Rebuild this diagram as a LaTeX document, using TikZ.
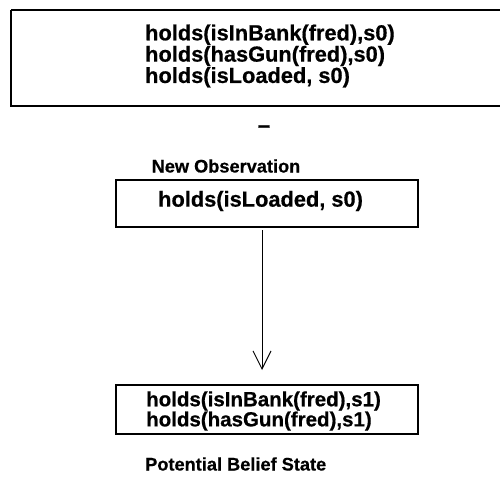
\documentclass[tikz,border=0pt]{standalone}
\usepackage{fontspec}
\setmainfont{Liberation Sans}[BoldFeatures={FakeBold=0.6}]
\usetikzlibrary{arrows.meta}
\tikzset{
  frame/.style={draw, line width=1.5pt},
  facts/.style={font=\fontsize{21.8}{19.5}\selectfont\bfseries, align=left, inner sep=0pt, anchor=west},
  smallfacts/.style={facts, font=\fontsize{20.5}{18.5}\selectfont\bfseries},
  caption/.style={font=\fontsize{18.2}{20}\selectfont\bfseries, inner sep=0pt},
  flow/.style={line width=1pt, -{Straight Barb[length=18pt, width=18pt, line width=1pt]}}
}
\begin{document}
\begin{tikzpicture}[x=1pt, y=-1pt]
  \useasboundingbox (0,0) rectangle (500,484);
  % current belief state (runs past the right margin)
  \begin{scope}
    \clip (0,0) rectangle (500,484);
    \draw[frame] (11,10) -- (11,106) -- (510,106) (11,10) -- (510,10);
  \end{scope}
  \node[facts] (state) at (145,56) {holds(isInBank(fred),s0)\\holds(hasGun(fred),s0)\\holds(isLoaded, s0)};
  \node[caption, font=\fontsize{22}{22}\selectfont\bfseries] (minus) at (264,129) {–};
  \node[caption] (obslabel) at (226,166) {New Observation};
  % new observation
  \draw[frame] (116,180) rectangle (418,227);
  \node[facts] (obs) at (158,201) {holds(isLoaded, s0)};
  \coordinate (obsout) at (262,230);
  % potential belief state
  \draw[frame] (116,385) rectangle (418,434);
  \node[smallfacts] (pot) at (146,411) {holds(isInBank(fred),s1)\\holds(hasGun(fred),s1)};
  \coordinate (potin) at (262,370);
  \node[caption, anchor=west] (potlabel) at (145,464) {Potential Belief State};
  \draw[flow] (obsout) -- (potin);
\end{tikzpicture}
\end{document}
